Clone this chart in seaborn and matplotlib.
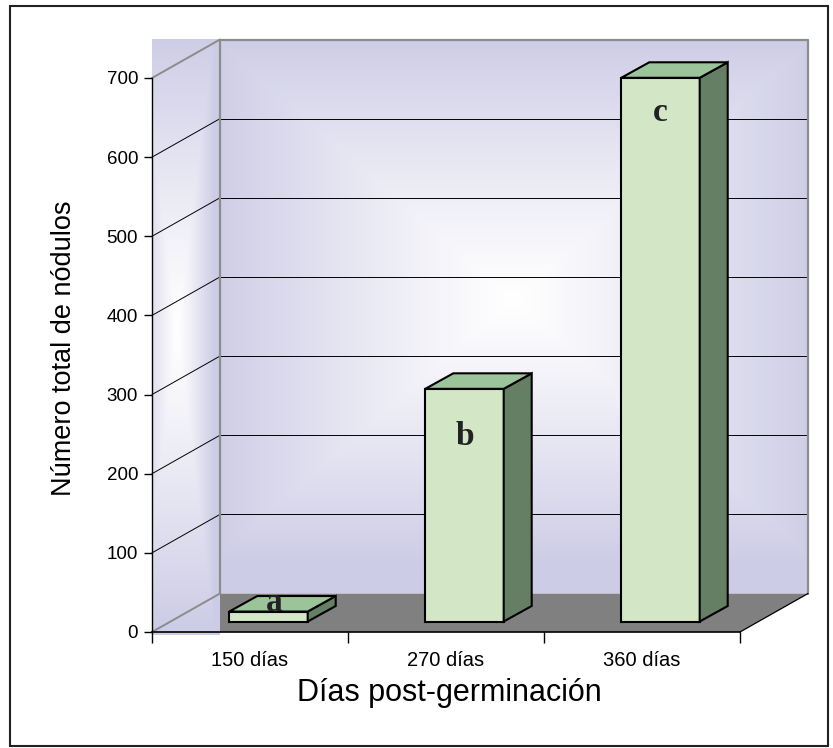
import numpy as np
import matplotlib
matplotlib.use("Agg")
import matplotlib.pyplot as plt
import matplotlib.transforms as mtransforms
from matplotlib.patches import Polygon, Rectangle
import seaborn as sns

# --- data ---
categories = ["150 días", "270 días", "360 días"]
nodulos = [12.6, 294, 687]
letras = ["a", "b", "c"]
y_ticks = [0, 100, 200, 300, 400, 500, 600, 700]

sns.set_theme(style="white")
plt.rcParams['font.family'] = ['Liberation Sans', 'DejaVu Sans']

W, H = 833, 748
fig = plt.figure(figsize=(W / 100, H / 100), dpi=100)
fig.patch.set_facecolor("white")
ax = fig.add_axes([152 / W, (H - 632) / H, 588 / W, 554 / H])
ax.patch.set_visible(False)

sns.barplot(x=categories, y=nodulos, width=0.4, color="#D3E6C6", saturation=1,
            edgecolor="black", linewidth=1.5, ax=ax)
ax.set_xlim(-0.5, 2.5)
ax.set_ylim(0, 700)
ax.set_autoscale_on(False)

# 3d look: offsets in pixels
DEPTH = (68, 38.5)      # front edge -> back wall
FACE = (18.5, 10.5)     # front edge -> bar front face
BAR_D = (28, 15.5)      # bar depth
ident = mtransforms.IdentityTransform()
PURPLE = np.array([205, 204, 230]) / 255


def px(x, y, off=(0, 0)):
    X, Y = ax.transData.transform((x, y))
    return (X + off[0], Y + off[1])


def add(off1, off2):
    return (off1[0] + off2[0], off1[1] + off2[1])


def grad_img(fx, fy, hw, hh, n=400):
    xs = np.linspace(0, 1, n)
    ys = np.linspace(1, 0, n)
    X, Y = np.meshgrid(xs, ys)
    t = np.clip(np.maximum(np.abs(X - fx) / hw, np.abs(Y - fy) / hh), 0, 1) ** 1.15
    return (1 - t)[..., None] * np.ones(3) + t[..., None] * PURPLE


# --- walls ---
bl = px(-0.5, 0, DEPTH)
tr = px(2.5, 700, DEPTH)
ax.imshow(grad_img(0.5, 0.53, 0.52, 0.48),
          extent=(bl[0], tr[0], bl[1], tr[1]), transform=ident, origin="upper",
          aspect="auto", interpolation="bilinear", zorder=0.1, clip_on=False)

f0 = px(-0.5, 0)
ax.imshow(grad_img(0.37, 0.51, 0.55, 0.5),
          extent=(f0[0], bl[0], f0[1] - 3, tr[1]), transform=ident, origin="upper",
          aspect="auto", interpolation="bilinear", zorder=0.1, clip_on=False)

# floor
fr = px(2.5, 0)
br = px(2.5, 0, DEPTH)
floor = Polygon([bl, br, fr, (bl[0], fr[1])], closed=True,
                facecolor="#808080", edgecolor="none", transform=ident,
                zorder=0.2, clip_on=False)
ax.add_patch(floor)

# gridlines on back wall and side wall
for v in y_ticks[1:-1]:
    a, b = px(-0.5, v, DEPTH), px(2.5, v, DEPTH)
    ax.plot([a[0], b[0]], [a[1], b[1]], color="black", lw=0.7, transform=ident,
            zorder=0.3, clip_on=False)
    c = px(-0.5, v)
    ax.plot([c[0], a[0]], [c[1], a[1]], color="black", lw=0.7, transform=ident,
            zorder=0.3, clip_on=False)

grey = "#8C8C8C"
for v in [0, 700]:
    a, c = px(-0.5, v, DEPTH), px(-0.5, v)
    ax.plot([c[0], a[0]], [c[1], a[1]], color=grey, lw=1.4, transform=ident,
            zorder=0.4, clip_on=False)
tl = px(-0.5, 700, DEPTH)
ax.plot([bl[0], tl[0], tr[0], tr[0]], [bl[1], tl[1], tr[1], br[1]],
        color=grey, lw=1.6, transform=ident, zorder=0.4, clip_on=False)
ax.plot([fr[0], br[0]], [fr[1], br[1]], color="black", lw=0.9, transform=ident,
        zorder=0.4, clip_on=False)

# --- 3d bars ---
face_trans = mtransforms.offset_copy(ax.transData, fig=fig, x=FACE[0], y=FACE[1], units="dots")
bars = list(ax.patches)[:len(nodulos)]
letter_off = [(6, 9), (0, -48), (0, -35)]
for i, p in enumerate(bars):
    p.set_transform(face_trans)
    p.set_clip_on(False)
    p.set_zorder(3)
    p.set_joinstyle("miter")
    x0, x1 = p.get_x(), p.get_x() + p.get_width()
    h = p.get_height()
    back = add(FACE, BAR_D)
    top = Polygon([px(x0, h, FACE), px(x1, h, FACE), px(x1, h, back), px(x0, h, back)],
                  closed=True, facecolor="#9CC49B", edgecolor="black", lw=1.5,
                  transform=ident, zorder=3, clip_on=False, joinstyle="miter")
    side = Polygon([px(x1, 0, FACE), px(x1, h, FACE), px(x1, h, back), px(x1, 0, back)],
                   closed=True, facecolor="#647F64", edgecolor="black", lw=1.5,
                   transform=ident, zorder=3, clip_on=False, joinstyle="miter")
    ax.add_patch(side)
    ax.add_patch(top)
    ax.annotate(letras[i], xy=(p.get_x() + p.get_width() / 2, h), xycoords=face_trans,
                xytext=letter_off[i], textcoords="offset pixels", ha="center", va="center",
                fontsize=24, fontweight="bold", family=["Liberation Serif", "DejaVu Serif"],
                color="#222222", zorder=6, annotation_clip=False)

# --- axes ---
for s in ["top", "right"]:
    ax.spines[s].set_visible(False)
ax.spines["left"].set_color("black")
ax.spines["left"].set_linewidth(1.0)
ax.spines["bottom"].set_color("black")
ax.spines["bottom"].set_linewidth(1.2)
ax.spines["left"].set_zorder(5)
ax.spines["bottom"].set_zorder(5)

ax.set_yticks(y_ticks)
ax.tick_params(axis="y", left=True, length=6, width=1, color="black", direction="out",
               labelsize=13.5, pad=4, labelcolor="black")
ax.set_xticks([-0.5, 0.5, 1.5, 2.5])
ax.set_xticklabels([])
ax.set_xticks([0, 1, 2], minor=True)
ax.set_xticklabels(categories, minor=True)
ax.tick_params(axis="x", which="major", bottom=True, length=8, width=1, color="black",
               direction="out")
ax.tick_params(axis="x", which="minor", bottom=True, length=0, labelsize=14.5, pad=14,
               labelcolor="black")

ax.set_ylabel("Número total de nódulos", fontsize=19.5, color="black")
ax.yaxis.set_label_coords(-0.128, 0.513)
ax.set_xlabel("Días post-germinación", fontsize=22, color="black")
ax.xaxis.set_label_coords(0.505, -0.083)

# outer frame
fig.add_artist(Rectangle((10, 2), 818, 740, fill=False, edgecolor="#222222", lw=1.5,
                         transform=ident))

ax.set_xlim(-0.5, 2.5)
ax.set_ylim(0, 700)
fig.savefig("out.png", dpi=100)
